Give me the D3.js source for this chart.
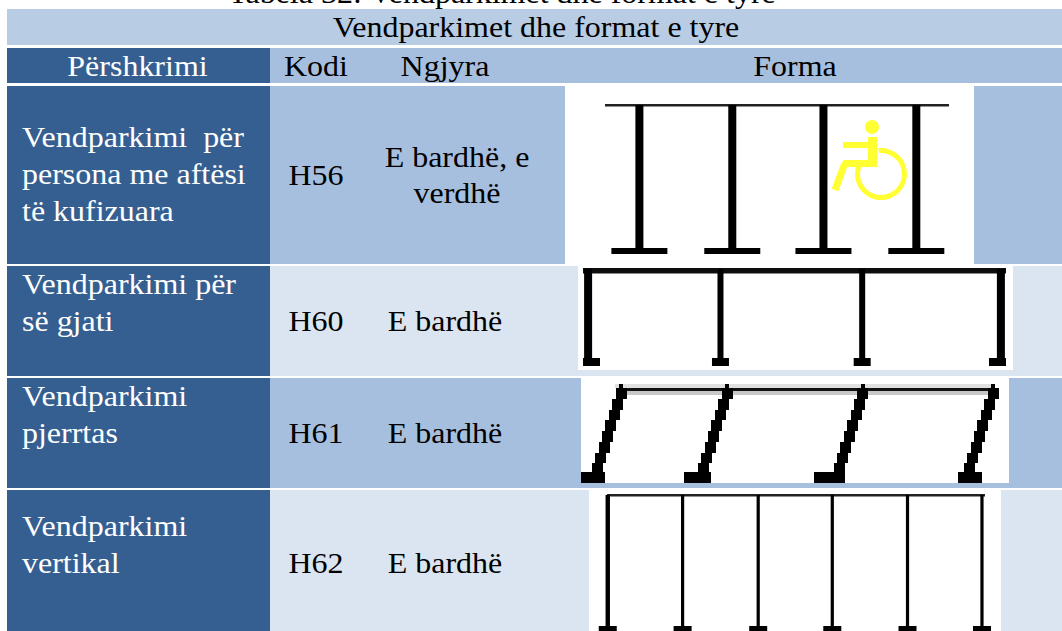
<!DOCTYPE html>
<html>
  <head>
    <meta charset="UTF-8" />
    <title>Vendparkimet dhe format e tyre</title>
    <script src="https://d3js.org/d3.v7.min.js"></script>
    <style>
      html, body { margin: 0; padding: 0; background: #fff; }
      svg { display: block; }
      text { font-family: "Liberation Serif", serif; white-space: pre; }
    </style>
  </head>
  <body>
    <div class="table-chart"></div>

    <script>
      // table content
      let caption = "Tabela 32: Vendparkimet dhe format e tyre";
      let bandTitle = "Vendparkimet dhe format e tyre";
      let headers = ["Përshkrimi", "Kodi", "Ngjyra", "Forma"];
      let descriptions = [
        ["Vendparkimi  për", "persona me aftësi", "të kufizuara"],
        ["Vendparkimi për", "së gjati"],
        ["Vendparkimi", "pjerrtas"],
        ["Vendparkimi", "vertikal"],
      ];
      let codes = ["H56", "H60", "H61", "H62"];
      let paintColours = [["E bardhë, e", "verdhë"], ["E bardhë"], ["E bardhë"], ["E bardhë"]];

      // where the stall lines sit along each marking, 0-100 of its top line
      let stemsH56 = [10, 37, 63.5, 90.5];
      let stemsH60 = [0.5, 32.5, 66, 99.5];
      let stemsH61 = [0, 28.5, 65, 100];
      let stemsH62 = [0.2, 20, 40, 59.6, 79.5, 99.2];

      // layout
      let width = 1062;
      let height = 631;
      let left = 7;
      let colDesc = 270;
      let fontSize = 29;
      let textStretch = 1.103; // the scan is wider than it is tall
      let rowTops = [86, 266, 378, 490];
      let rowBottoms = [264, 376, 488, 631];
      let rowFills = ["#a7bfde", "#dbe5f1", "#a7bfde", "#dbe5f1"];
      let dark = "#365f91";
      let descBaselines = [147, 294, 406, 536];
      let codeBaselines = [185, 331, 443, 573];
      let colourBaselines = [167, 331, 443, 573];

      let svg = d3
        .select(".table-chart")
        .append("svg")
        .attr("width", width)
        .attr("height", height);

      svg
        .append("defs")
        .append("filter")
        .attr("id", "soft")
        .append("feGaussianBlur")
        .attr("stdDeviation", 0.6);

      function box(parent, x0, x1, y0, y1, fill) {
        parent
          .append("rect")
          .attr("x", x0)
          .attr("y", y0)
          .attr("width", x1 - x0)
          .attr("height", y1 - y0)
          .attr("fill", fill || "#000");
      }

      function label(str, x, y, anchor, fill) {
        svg
          .append("text")
          .attr("transform", `translate(${x},${y}) scale(${textStretch},1)`)
          .attr("text-anchor", anchor)
          .attr("font-size", fontSize)
          .attr("fill", fill)
          .text(str);
      }

      // caption, cut by the top edge like in the scan
      label(caption, 502, 3, "middle", "#000");

      // bands
      box(svg, left, width, 9, 45, "#b8cce4");
      label(bandTitle, 536, 37, "middle", "#000");
      box(svg, left, colDesc, 48, 83, dark);
      box(svg, colDesc, width, 48, 83, "#a7bfde");

      let headerX = [137.5, 316, 445, 795];
      headers.forEach((h, i) => {
        label(h, headerX[i], 76, "middle", i == 0 ? "#fff" : "#000");
      });

      // rows
      codes.forEach((code, i) => {
        box(svg, left, colDesc, rowTops[i], rowBottoms[i], dark);
        box(svg, colDesc, width, rowTops[i], rowBottoms[i], rowFills[i]);
        descriptions[i].forEach((line, j) => {
          label(line, 22, descBaselines[i] + j * 37, "start", "#fff");
        });
        label(code, 316, codeBaselines[i], "middle", "#000");
        paintColours[i].forEach((line, j) => {
          label(line, i == 0 ? 457 : 445, colourBaselines[i] + j * 36, "middle", "#000");
        });
      });

      // white picture boxes behind the markings
      box(svg, 565, 974, 86, 264, "#fff");
      box(svg, 578, 1013, 266, 370, "#fff");
      box(svg, 581, 1009, 378, 483, "#fff");
      box(svg, 589, 1001, 490, 631, "#fff");

      // H56: straight stalls with wide feet and the wheelchair sign
      let g56 = svg.append("g").attr("filter", "url(#soft)");
      let x56 = d3.scaleLinear().domain([0, 100]).range([605, 949]);
      box(g56, 605, 949, 104, 106.5, "#222");
      stemsH56.forEach((s) => {
        box(g56, x56(s) - 4, x56(s) + 4, 105, 250);
        box(g56, x56(s) - 28, x56(s) + 28, 248, 254);
      });

      let yellow = "#ffff33";
      let sign = g56.append("g").attr("fill", yellow);
      sign.append("circle").attr("cx", 872).attr("cy", 127).attr("r", 7);
      box(sign, 843, 875, 142, 148, yellow);
      box(sign, 868, 877, 137, 167, yellow);
      box(sign, 843, 877, 160, 167, yellow);
      sign
        .append("line")
        .attr("x1", 845)
        .attr("y1", 163)
        .attr("x2", 835)
        .attr("y2", 190)
        .attr("stroke", yellow)
        .attr("stroke-width", 7);
      sign
        .append("path")
        .attr("transform", "translate(881,174)")
        .attr(
          "d",
          d3.arc()({
            innerRadius: 21,
            outerRadius: 26,
            startAngle: -0.1,
            endAngle: Math.PI * 1.62,
          })
        );

      // H60: heavy lines, end stalls have the foot turned inward
      let g60 = svg.append("g").attr("filter", "url(#soft)");
      let x60 = d3.scaleLinear().domain([0, 100]).range([583, 1006]);
      box(g60, 583, 1006, 268, 273.5, "#111");
      stemsH60.forEach((s, i) => {
        let last = i == stemsH60.length - 1;
        let w = i == 0 || last ? 4 : 3;
        let cx = x60(s) + (i == 0 ? 3 : last ? -3 : 0);
        box(g60, cx - w, cx + w, 269, 364);
        let fx0 = i == 0 ? x60(0) : last ? x60(100) - 17 : cx - 8.5;
        box(g60, fx0, fx0 + 17, 358, 366);
      });

      // H61: slanted stalls, pixelated in the source so drawn as steps
      let g61 = svg.append("g").attr("shape-rendering", "crispEdges");
      let x61 = d3.scaleLinear().domain([0, 100]).range([621, 993]);
      box(g61, 615, 993, 384, 388, "#e0e0e0");
      box(g61, 620, 990, 390, 395, "#c8c8c8");
      box(g61, 617, 993, 388, 390.5, "#111");
      let stepCount = 8;
      let stepY = d3.scaleLinear().domain([0, stepCount]).range([388, 474]);
      let footX = [581, 684, 814, 958];
      let footW = [24, 27, 31, 24];
      stemsH61.forEach((s, i) => {
        box(g61, x61(s) - 2, x61(s) + 2, 384, 388);
        d3.range(stepCount).forEach((k) => {
          let cx = x61(s) - k * 3.4;
          box(g61, cx - 5.5, cx + 5.5, stepY(k), stepY(k + 1));
        });
        box(g61, footX[i], footX[i] + footW[i], 472, 483);
      });

      // H62: thin lines, feet are cut by the page edge
      let g62 = svg.append("g").attr("filter", "url(#soft)");
      let x62 = d3.scaleLinear().domain([0, 100]).range([607, 985]);
      box(g62, 607, 985, 494, 496.5, "#222");
      stemsH62.forEach((s, i) => {
        let w = i == 0 ? 2.2 : 1.6;
        box(g62, x62(s) - w, x62(s) + w, 495, 628);
        box(g62, x62(s) - 9, x62(s) + 9, 626, 640);
      });
    </script>
  </body>
</html>
